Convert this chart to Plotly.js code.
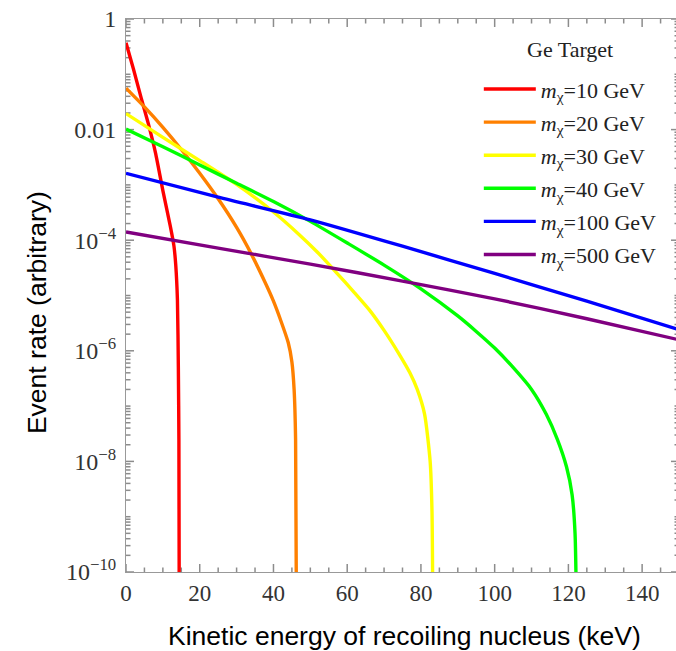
<!DOCTYPE html>
<html>
<head>
<meta charset="utf-8">
<script src="https://cdn.plot.ly/plotly-3.0.1.min.js"></script>
<style>
html,body{margin:0;padding:0;overflow:hidden;background:#fff;}
#chart{width:680px;height:651px;}
</style>
</head>
<body>
<div id="chart"></div>
<script>
// Recoil energy (keV) and event rate (arbitrary)
var red_x = [0, 2, 4, 6, 8, 10, 12, 13, 13.5, 13.95, 14.2, 14.35, 14.45];
var red_y = [0.372, 0.126, 0.0398, 0.0132, 3.8e-3, 7.9e-4, 1.82e-4, 7.9e-5, 3.5e-5, 8.3e-6, 5.0e-7, 2.5e-8, 1e-11];

var orange_x = [0, 5, 10, 15, 20, 25, 30, 34, 38, 40, 42, 44, 45, 45.6, 46.0, 46.25];
var orange_y = [0.0562, 0.0257, 0.011, 4.37e-3, 1.62e-3, 5.6e-4, 1.7e-4, 5.6e-5, 1.58e-5, 7.9e-6, 3.5e-6, 1.41e-6, 6.3e-7, 2.0e-7, 2.5e-8, 1e-11];

var yellow_x = [0, 10, 20, 30, 40, 47, 52, 57, 62, 66, 70, 74, 77, 79, 81, 82.5, 83.0, 83.25];
var yellow_y = [0.0195, 7.24e-3, 2.75e-3, 1.02e-3, 3.24e-4, 1.26e-4, 6.0e-5, 2.63e-5, 1.12e-5, 5.5e-6, 2.34e-6, 8.9e-7, 4.0e-7, 2.0e-7, 7.1e-8, 1e-8, 1.26e-9, 1e-11];

var green_x = [0, 10, 20, 30, 40, 50, 60, 70, 80, 90, 95, 100, 105, 110, 114, 117, 119.5, 121, 121.8, 122.25];
var green_y = [0.0102, 4.9e-3, 2.29e-3, 1.07e-3, 5.0e-4, 2.19e-4, 8.9e-5, 3.55e-5, 1.32e-5, 4.27e-6, 2.24e-6, 1.12e-6, 5.0e-7, 2.0e-7, 7.1e-8, 2.5e-8, 7.9e-9, 2.5e-9, 5.0e-10, 1e-11];

var blue_x = [0, 25, 50, 75, 100, 125, 150];
var blue_y = [1.62e-3, 6.0e-4, 2.34e-4, 7.8e-5, 2.5e-5, 7.9e-6, 2.4e-6];

var purple_x = [0, 25, 50, 75, 100, 125, 150];
var purple_y = [1.41e-4, 7.2e-5, 3.7e-5, 1.82e-5, 8.7e-6, 3.8e-6, 1.58e-6];

var seriesNames = ['<i>m</i><sub>χ</sub>=10 GeV', '<i>m</i><sub>χ</sub>=20 GeV', '<i>m</i><sub>χ</sub>=30 GeV',
                   '<i>m</i><sub>χ</sub>=40 GeV', '<i>m</i><sub>χ</sub>=100 GeV', '<i>m</i><sub>χ</sub>=500 GeV'];
var seriesColors = ['#ff0000', '#ff8000', '#ffff00', '#00ff00', '#0000ff', '#800080'];

var xTickVals = [0, 20, 40, 60, 80, 100, 120, 140];
var yTickVals = [1, 1e-2, 1e-4, 1e-6, 1e-8, 1e-10];
var yTickText = ['1', '0.01', '10<sup>−4</sup>', '10<sup>−6</sup>', '10<sup>−8</sup>', '10<sup>−10</sup>'];
var legendTitle = 'Ge Target';

var xs = [red_x, orange_x, yellow_x, green_x, blue_x, purple_x];
var ys = [red_y, orange_y, yellow_y, green_y, blue_y, purple_y];

// ---- axis decoration: tick positions ----
var yMinor = [];
for (var e = -1; e >= -10; e--) {
  for (var m = 1; m <= 9; m++) {
    if (m === 1 && e % 2 === 0) continue;
    yMinor.push(m * Math.pow(10, e));
  }
}
var xMinor = [];
for (var k = 0; k <= 150; k += 5) { if (k % 20 !== 0) xMinor.push(k); }

var X0 = 0, X1 = 150, LY0 = -10, LY1 = 0;      // axis ranges (log for y)
var PW = 553, PH = 553;                          // plot size in px
var tkx = [], tky = [];                          // tick segments drawn as one line trace
function addXTick(v, lenPx) {
  var d = (LY1 - LY0) * lenPx / PH;
  tkx.push(v, v, null, v, v, null);
  tky.push(Math.pow(10, LY0), Math.pow(10, LY0 + d), null, Math.pow(10, LY1), Math.pow(10, LY1 - d), null);
}
function addYTick(v, lenPx) {
  var d = (X1 - X0) * lenPx / PW;
  tkx.push(X0, X0 + d, null, X1, X1 - d, null);
  tky.push(v, v, null, v, v, null);
}
xTickVals.forEach(function (v) { addXTick(v, 8); });
xMinor.forEach(function (v) { addXTick(v, 4.5); });
yTickVals.forEach(function (v) { addYTick(v, 8); });
yMinor.forEach(function (v) { addYTick(v, 4.5); });

var axisCol = '#999';

var traces = [{
  x: tkx, y: tky, type: 'scatter', mode: 'lines', showlegend: false, hoverinfo: 'skip',
  connectgaps: false, line: {color: '#8c8c8c', width: 1.5}
}];
xs.forEach(function (x, i) {
  traces.push({
    x: x, y: ys[i], type: 'scatter', mode: 'lines', name: seriesNames[i],
    legendgroup: 'g' + i,
    line: {color: seriesColors[i], width: 3.4, shape: 'spline', smoothing: 0.6}
  });
});

var serif = 'Liberation Serif, Times New Roman, serif';
var sans = 'Liberation Sans, Arial, sans-serif';

var layout = {
  width: 680, height: 651,
  margin: {l: 126, r: 1, t: 19, b: 79},
  paper_bgcolor: '#fff', plot_bgcolor: '#fff',
  showlegend: true,
  legend: {
    x: 0.638, y: 0.911, xanchor: 'left', yanchor: 'top',
    bgcolor: 'rgba(0,0,0,0)',
    font: {family: serif, size: 22, color: '#222'},
    tracegroupgap: 1.5,
    itemwidth: 52
  },
  xaxis: {
    range: [X0, X1], showgrid: false, zeroline: false,
    showline: true, linecolor: axisCol, linewidth: 1, mirror: true,
    ticks: '', tickmode: 'array', tickvals: xTickVals,
    tickfont: {family: serif, size: 23, color: '#333'}
  },
  yaxis: {
    type: 'log', range: [LY0, LY1], showgrid: false, zeroline: false,
    showline: true, linecolor: axisCol, linewidth: 1, mirror: true,
    ticks: '', tickmode: 'array', tickvals: yTickVals, ticktext: yTickText,
    ticklabelstandoff: 4,
    tickfont: {family: serif, size: 24, color: '#333'}
  },
  annotations: [
    {text: legendTitle, xref: 'paper', yref: 'paper', x: (570 - 126) / 553, y: (572 - 50) / 553,
     xanchor: 'center', yanchor: 'middle', showarrow: false,
     font: {family: serif, size: 22, color: '#222'}},
    {text: 'Event rate (arbitrary)', xref: 'paper', yref: 'paper', x: -0.161, y: 0.47,
     xanchor: 'center', yanchor: 'middle', textangle: -90, showarrow: false,
     font: {family: sans, size: 26.5, color: '#000'}},
    {text: 'Kinetic energy of recoiling nucleus (keV)', xref: 'paper', yref: 'paper', x: 0.5045, y: -0.1157,
     xanchor: 'center', yanchor: 'middle', showarrow: false,
     font: {family: sans, size: 26.5, color: '#000'}}
  ]
};

Plotly.newPlot('chart', traces, layout, {displayModeBar: false, staticPlot: true});
</script>
</body>
</html>
